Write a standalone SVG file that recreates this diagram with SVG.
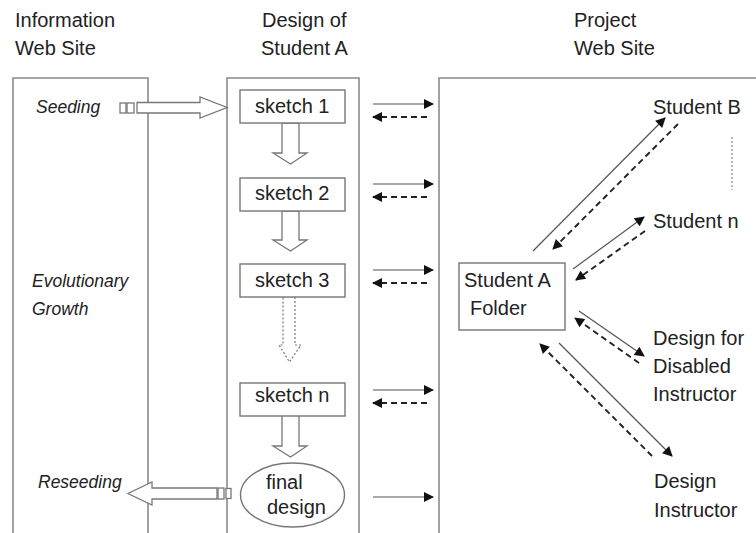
<svg xmlns="http://www.w3.org/2000/svg" width="756" height="533" viewBox="0 0 756 533">
<defs>
<style>
.t{font-family:"Liberation Sans",Arial,sans-serif;font-size:20px;fill:#222}
.i{font-family:"Liberation Sans",Arial,sans-serif;font-size:17.5px;font-style:italic;fill:#222}
.panel{fill:none;stroke:#8a8a8a;stroke-width:1.6}
.box{fill:#fff;stroke:#777;stroke-width:1.4}
.blk{fill:#fff;stroke:#777;stroke-width:1.3}
.blkd{fill:#fff;stroke:#777;stroke-width:1.2;stroke-dasharray:2 2}
.sol{fill:none;stroke:#555;stroke-width:1.2}
.dsh{fill:none;stroke:#222;stroke-width:1.9;stroke-dasharray:6 4}
</style>
<marker id="ah" viewBox="0 0 10 10" refX="9" refY="5" markerUnits="userSpaceOnUse" markerWidth="11" markerHeight="10" orient="auto">
<path d="M0,0 L10,5 L0,10 Z" fill="#111"/>
</marker>
</defs>
<rect width="756" height="533" fill="#fff"/>

<g id="titles">
<text class="t" x="15" y="27">Information</text>
<text class="t" x="15" y="55">Web Site</text>
<text class="t" x="262" y="27">Design of</text>
<text class="t" x="261" y="55">Student A</text>
<text class="t" x="574" y="27">Project</text>
<text class="t" x="574" y="55">Web Site</text>
</g>

<g id="panels">
<path class="panel" d="M13,540 V78 H148 V540"/>
<path class="panel" d="M227,540 V78 H359 V540"/>
<path class="panel" d="M439,540 V78 H760"/>
</g>

<g id="labels">
<text class="i" x="36" y="113">Seeding</text>
<text class="i" x="32" y="287">Evolutionary</text>
<text class="i" x="32" y="315">Growth</text>
<text class="i" x="38" y="488">Reseeding</text>
</g>

<g id="seeding-arrow">
<rect class="blk" x="120" y="103" width="6" height="10"/>
<rect class="blk" x="127" y="103" width="7" height="10"/>
<polygon class="blk" points="137,102.5 200,102.5 200,97 227,107.5 200,118 200,113 137,113"/>
</g>

<g id="reseeding-arrow">
<polygon class="blk" points="217,488 152,488 152,482 128,493.5 152,505 152,499 217,499"/>
<rect class="blk" x="218" y="488" width="6" height="11"/>
<rect class="blk" x="226" y="488.5" width="5" height="10"/>
</g>

<g id="flow-arrows">
<polygon class="blk" points="282,123 299,123 299,153 307,153 290.5,164 273,153 282,153"/>
<polygon class="blk" points="282,211 299,211 299,240 307,240 290.5,251 273,240 282,240"/>
<polygon class="blkd" points="283,297 295,297 295,345 301,345 289.5,362 279,345 283,345"/>
<polygon class="blk" points="282,415 299,415 299,446 307,446 290.5,457 273,446 282,446"/>
</g>

<g id="sketch1"><rect class="box" x="240" y="90" width="105" height="33"/><text class="t" x="255" y="113">sketch 1</text></g>
<g id="sketch2"><rect class="box" x="240" y="178" width="105" height="33"/><text class="t" x="255" y="200">sketch 2</text></g>
<g id="sketch3"><rect class="box" x="240" y="264" width="105" height="33"/><text class="t" x="255" y="287">sketch 3</text></g>
<g id="sketchn"><rect class="box" x="240" y="383" width="105" height="33"/><text class="t" x="255" y="402">sketch n</text></g>
<g id="final"><ellipse class="box" cx="292.5" cy="495" rx="52" ry="32"/><text class="t" x="266" y="489">final</text><text class="t" x="267" y="514">design</text></g>

<g id="folder"><rect class="box" x="459" y="263" width="106" height="67"/><text class="t" x="464" y="287">Student A</text><text class="t" x="470" y="315">Folder</text></g>

<g id="studentB"><text class="t" x="653" y="114">Student B</text></g>
<g id="studentN"><text class="t" x="653" y="228">Student n</text></g>
<g id="disabled"><text class="t" x="653" y="345">Design for</text><text class="t" x="653" y="373">Disabled</text><text class="t" x="653" y="401">Instructor</text></g>
<g id="instructor"><text class="t" x="654" y="488">Design</text><text class="t" x="654" y="517">Instructor</text></g>

<g id="connectors">
<line class="sol" x1="373" y1="104" x2="433" y2="104" marker-end="url(#ah)"/>
<line class="dsh" x1="427" y1="117" x2="373" y2="117" marker-end="url(#ah)"/>
<line class="sol" x1="373" y1="184" x2="433" y2="184" marker-end="url(#ah)"/>
<line class="dsh" x1="427" y1="197" x2="373" y2="197" marker-end="url(#ah)"/>
<line class="sol" x1="373" y1="270" x2="433" y2="270" marker-end="url(#ah)"/>
<line class="dsh" x1="427" y1="283" x2="373" y2="283" marker-end="url(#ah)"/>
<line class="sol" x1="373" y1="390" x2="433" y2="390" marker-end="url(#ah)"/>
<line class="dsh" x1="427" y1="403" x2="373" y2="403" marker-end="url(#ah)"/>
<line class="sol" x1="373" y1="497" x2="433" y2="497" marker-end="url(#ah)"/>

<line class="sol" x1="533" y1="251" x2="665" y2="118" marker-end="url(#ah)"/>
<line class="dsh" x1="678" y1="124" x2="553" y2="249" marker-end="url(#ah)"/>
<line class="sol" x1="573" y1="269" x2="644" y2="217" marker-end="url(#ah)"/>
<line class="dsh" x1="645" y1="231" x2="576" y2="280" marker-end="url(#ah)"/>
<line class="sol" x1="579" y1="311" x2="644" y2="356" marker-end="url(#ah)"/>
<line class="dsh" x1="639" y1="363" x2="575" y2="318" marker-end="url(#ah)"/>
<line class="sol" x1="559" y1="343" x2="672" y2="456" marker-end="url(#ah)"/>
<line class="dsh" x1="652" y1="456" x2="540" y2="344" marker-end="url(#ah)"/>
<line x1="732" y1="137" x2="732" y2="190" stroke="#777" stroke-width="1" stroke-dasharray="2 2"/>
</g>
</svg>
